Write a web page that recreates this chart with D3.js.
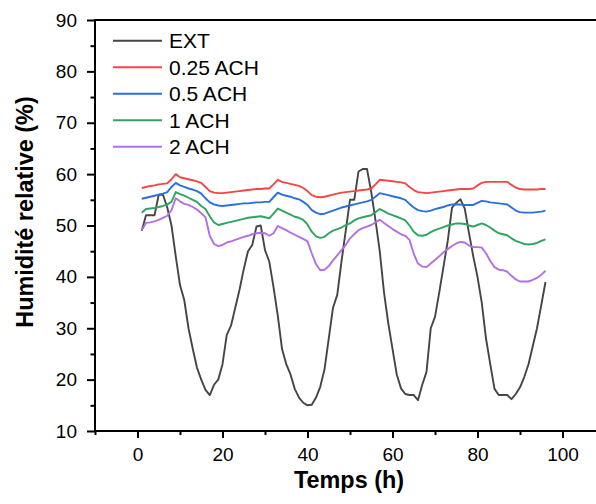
<!DOCTYPE html>
<html><head><meta charset="utf-8">
<script src="https://cdn.jsdelivr.net/npm/d3@7"></script>
<style>body{margin:0;background:#fff}svg{display:block}text{font-family:Arial,"Liberation Sans",sans-serif}</style>
</head><body><svg id="c" width="596" height="504"></svg>
<script>
const hours = d3.range(1, 97);
const ext = [49,52,52,52,56,56,53.5,50,44,38.4,35.5,30,26,22.3,20,18,17,19,20,23,28.7,30.5,34,37.5,41.5,45,46.2,49.8,50,45.2,43,38,32.5,26,23,21,18.2,16.5,15.5,15,15.1,16.5,18.6,22,28,34,36.5,43,49,55,55,60.5,61,61,56.5,51,45,37,31,26,21,18.3,17.2,17,17,16,19,21.5,30,32.2,37,42,47,53.5,54.4,55.1,53.3,48.5,44,40,35,28,23,18.2,17,17,17,16.2,17.2,18.5,20.5,23,26.5,30,34.5,39];
const ach025 = [57.3,57.5,57.7,57.8,58,58.1,58.2,59,60,59.4,59.2,59,58.8,58.6,58.3,57.5,56.7,56.4,56.3,56.3,56.4,56.5,56.6,56.7,56.8,56.9,57,57.1,57.1,57.2,57.2,58,58.9,58.5,58.3,58.1,57.9,57.7,57.3,56.7,55.9,55.6,55.5,55.6,55.8,56,56.2,56.4,56.5,56.6,56.7,56.8,56.9,57,57.2,58,58.9,58.8,58.7,58.6,58.5,58.4,58.2,57.5,56.9,56.5,56.4,56.3,56.4,56.5,56.6,56.7,56.8,56.9,57,57.1,57.1,57.1,57.2,57.8,58.3,58.5,58.5,58.5,58.5,58.5,58.5,57.9,57.4,57.1,57,57,57,57,57.1,57.1];
const ach05 = [55.2,55.4,55.6,55.8,56,56.2,56.5,57.5,58.3,57.8,57.5,57.2,57,56.7,56.2,55.3,54.5,54.1,53.9,53.8,53.9,54,54.1,54.2,54.3,54.3,54.4,54.5,54.5,54.6,54.6,55.5,56.4,56,55.8,55.6,55.3,55.1,54.6,54,53,52.5,52.2,52.3,52.6,52.9,53.2,53.5,53.7,53.9,54.1,54.3,54.5,54.7,55,55.6,56.3,56.1,55.9,55.7,55.5,55.3,55,54.2,53.5,53,52.8,52.7,52.9,53.2,53.4,53.6,53.9,54.1,54.1,54.1,54,54,54,54.4,54.8,54.7,54.5,54.4,54.3,54.2,54.1,53.5,52.9,52.6,52.5,52.5,52.5,52.6,52.7,52.9];
const ach1 = [52.5,53.2,53.3,53.4,53.6,53.8,54.1,54.6,56.5,56.1,55.8,55.4,55,54.6,53.8,53.2,51.8,50.6,50.1,50.3,50.5,50.7,50.9,51.1,51.3,51.5,51.6,51.7,51.8,51.6,51.4,52.3,53.3,52.9,52.5,52.1,51.7,51.5,51.1,50.2,48.8,47.9,47.6,47.8,48.5,49,49.3,49.6,50.1,50.4,51,51.4,51.6,51.8,52,52.6,53.2,52.8,52.3,52,51.7,51.4,51,50,48.8,48.1,48,48.2,48.7,49.1,49.4,49.7,50,50.2,50.4,50.4,50.3,50,49.8,50.1,50.4,50.1,49.6,49,48.5,48.3,48.1,47.5,47,46.7,46.4,46.3,46.4,46.6,47,47.3];
const ach2 = [49.1,50.5,50.6,50.8,51.1,51.5,51.9,53,55.3,54.7,54.2,54,53.6,53.1,52.4,51.6,48,46.4,46,46.2,46.7,46.9,47.2,47.5,47.8,48,48.3,48.5,48.6,48.5,48,48.5,49.9,49.5,49.1,48.6,48.2,47.8,47.4,46.9,44.6,42.5,41.3,41.4,42.1,43.2,44.2,45.2,46.2,47.5,48.3,49.1,49.5,49.8,50.1,50.6,51.1,50.5,49.9,49.3,48.8,48.3,48,47.2,44.5,42.6,42,41.9,42.6,43.3,44,44.8,45.4,46,46.5,46.8,46.7,46.1,45.8,45.8,45.7,44.6,43.1,41.9,41.4,41.3,41,40.2,39.5,39.1,39.1,39.1,39.4,39.8,40.4,41.2];
const seriesNames = ["EXT","0.25 ACH","0.5 ACH","1 ACH","2 ACH"];
const seriesColors = ["#454545","#f44646","#2a6fe0","#2fa360","#b46fe2"];
const xTicks = [0,20,40,60,80,100];
const xMinor = [-10,10,30,50,70,90,110];
const yTicks = [10,20,30,40,50,60,70,80,90];
const yMinor = [15,25,35,45,55,65,75,85];
const xLabel = "Temps (h)";
const yLabel = "Humidité relative (%)";

const svg = d3.select("#c");
const L = 95, R = 605, T = 20, B = 431;
const x = d3.scaleLinear().domain([-10,110]).range([L,R]);
const y = d3.scaleLinear().domain([10,90]).range([B,T]);

const allSeries = [ext, ach025, ach05, ach1, ach2];
const line = d3.line().x((d,i)=>x(hours[i])).y(d=>y(d));
allSeries.forEach((s,k)=>{
  svg.append("path").datum(s).attr("d",line).attr("fill","none")
    .attr("stroke",seriesColors[k]).attr("stroke-width",1.9).attr("stroke-linejoin","round");
});

svg.append("rect").attr("x",L).attr("y",T).attr("width",R-L).attr("height",B-T)
  .attr("fill","none").attr("stroke","#000").attr("stroke-width",2);

const gx = svg.append("g").attr("transform",`translate(0,${B})`)
  .call(d3.axisBottom(x).tickValues(xTicks).tickSize(7).tickPadding(10).tickFormat(d3.format("d")));
const gxm = svg.append("g").attr("transform",`translate(0,${B})`)
  .call(d3.axisBottom(x).tickValues(xMinor).tickSize(4).tickFormat(""));
const gy = svg.append("g").attr("transform",`translate(${L},0)`)
  .call(d3.axisLeft(y).tickValues(yTicks).tickSize(8).tickPadding(10).tickFormat(d3.format("d")));
const gym = svg.append("g").attr("transform",`translate(${L},0)`)
  .call(d3.axisLeft(y).tickValues(yMinor).tickSize(4.5).tickFormat(""));
[gx,gxm,gy,gym].forEach(g=>{
  g.select(".domain").remove();
  g.selectAll(".tick line").attr("stroke","#000").attr("stroke-width",2);
  g.selectAll("text").attr("font-size",19).attr("fill","#000").style("font-family","Arial, 'Liberation Sans', sans-serif");
});

svg.append("text").attr("x",349).attr("y",488).attr("text-anchor","middle")
  .attr("font-size",23.4).attr("font-weight","bold").text(xLabel);
svg.append("text").attr("transform","translate(33,212) rotate(-90)").attr("text-anchor","middle")
  .attr("font-size",23.4).attr("font-weight","bold").text(yLabel);

const lg = svg.append("g");
seriesNames.forEach((n,i)=>{
  const yy = 40.7 + i*26.5;
  lg.append("line").attr("x1",113).attr("x2",162).attr("y1",yy).attr("y2",yy)
    .attr("stroke",seriesColors[i]).attr("stroke-width",1.9);
  lg.append("text").attr("x",169).attr("y",yy).attr("dy","0.36em").attr("font-size",21).text(n);
});
</script></body></html>
